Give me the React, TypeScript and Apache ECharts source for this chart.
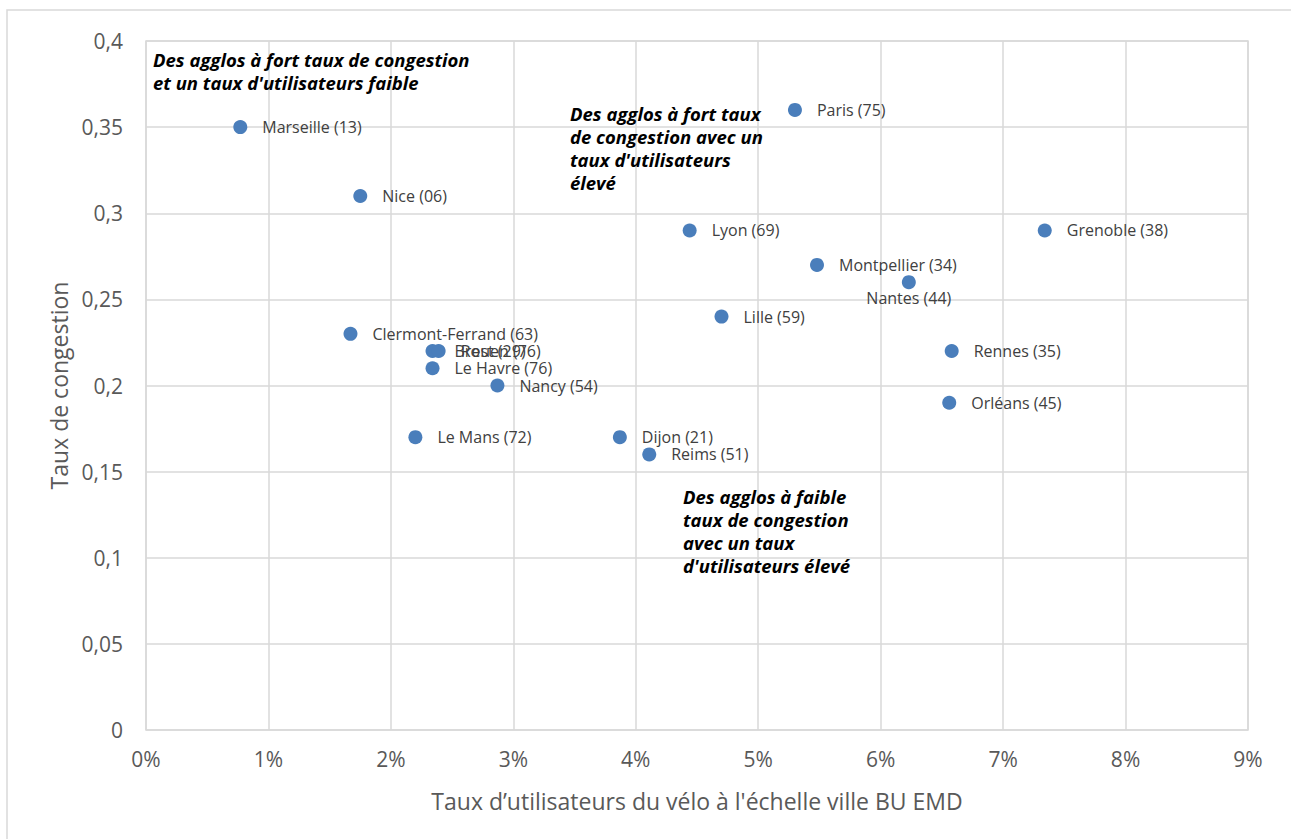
import React, { useEffect, useRef } from "react";
import * as echarts from "echarts";

const cities = [
  "Marseille (13)", "Nice (06)", "Clermont-Ferrand (63)", "Brest (29)", "Rouen (76)",
  "Le Havre (76)", "Nancy (54)", "Le Mans (72)", "Dijon (21)", "Reims (51)",
  "Lyon (69)", "Lille (59)", "Paris (75)", "Montpellier (34)", "Nantes (44)",
  "Grenoble (38)", "Rennes (35)", "Orléans (45)",
];
const bikeShare = [
  0.0077, 0.0175, 0.0167, 0.0234, 0.0239,
  0.0234, 0.0287, 0.022, 0.0387, 0.0411,
  0.0444, 0.047, 0.053, 0.0548, 0.0623,
  0.0734, 0.0658, 0.0656,
];
const congestion = [
  0.35, 0.31, 0.23, 0.22, 0.22,
  0.21, 0.2, 0.17, 0.17, 0.16,
  0.29, 0.24, 0.36, 0.27, 0.26,
  0.29, 0.22, 0.19,
];
const labelBelow = ["Nantes (44)"];

const annotations = [
  { text: "Des agglos à fort taux de congestion\net un taux d'utilisateurs faible", x: 153, y: 48 },
  { text: "Des agglos à fort taux\nde congestion avec un\ntaux d'utilisateurs\nélevé", x: 570, y: 102 },
  { text: "Des agglos à faible\ntaux de congestion\navec un taux\nd'utilisateurs élevé", x: 683, y: 485 },
];

export default function App() {
  const ref = useRef<HTMLDivElement>(null);
  useEffect(() => {
    document.body.style.margin = "0";
    const chart = echarts.init(ref.current!, null, { renderer: "svg" });
    const data = cities.map((c, i) => ({
      name: c,
      value: [bikeShare[i], congestion[i]],
      label: labelBelow.includes(c)
        ? { position: "bottom", distance: 1, align: "center" }
        : undefined,
    }));
    chart.setOption({
      animation: false,
      backgroundColor: "#fff",
      textStyle: { fontFamily: "Open Sans" },
      grid: { left: 146, right: 43, top: 41, bottom: 109 },
      xAxis: {
        type: "value",
        min: 0,
        max: 0.09,
        interval: 0.01,
        name: "Taux d’utilisateurs du vélo à l'échelle ville BU EMD",
        nameLocation: "middle",
        nameGap: 59,
        nameTextStyle: { color: "#595959", fontSize: 23, fontFamily: "Open Sans" },
        axisLine: { show: false },
        axisTick: { show: false },
        axisLabel: {
          color: "#595959",
          fontSize: 21,
          margin: 18,
          formatter: (v: number) => Math.round(v * 100) + "%",
        },
        splitLine: { show: true, lineStyle: { color: "#d9d9d9", width: 1.5 } },
      },
      yAxis: {
        type: "value",
        min: 0,
        max: 0.4,
        interval: 0.05,
        name: "Taux de congestion",
        nameLocation: "middle",
        nameGap: 74,
        nameTextStyle: { color: "#595959", fontSize: 23, fontFamily: "Open Sans" },
        axisLine: { show: false },
        axisTick: { show: false },
        axisLabel: {
          color: "#595959",
          fontSize: 21,
          margin: 23,
          formatter: (v: number) => String(Math.round(v * 100) / 100).replace(".", ","),
        },
        splitLine: { show: true, lineStyle: { color: "#d9d9d9", width: 1.5 } },
      },
      series: [
        {
          type: "scatter",
          symbolSize: 14,
          itemStyle: { color: "#4a7ebb", opacity: 1 },
          data,
          label: {
            show: true,
            position: "right",
            distance: 15,
            formatter: "{b}",
            color: "#404040",
            fontSize: 16,
            fontFamily: "Open Sans",
          },
          z: 5,
        },
      ],
      graphic: [
        {
          type: "rect",
          shape: { x: 7, y: 10, width: 1290, height: 830 },
          style: { fill: "none", stroke: "#d9d9d9", lineWidth: 1.5 },
          silent: true,
        },
        {
          type: "rect",
          shape: { x: 146, y: 41, width: 1102, height: 689 },
          style: { fill: "none", stroke: "#d9d9d9", lineWidth: 1.5 },
          silent: true,
        },
        ...annotations.map((a) => ({
          type: "text",
          x: a.x,
          y: a.y,
          z: 10,
          style: {
            text: a.text,
            fill: "#000",
            font: "italic bold 18.5px 'Open Sans'",
            lineHeight: 23,
          },
        })),
      ],
    });
    return () => chart.dispose();
  }, []);
  return <div ref={ref} style={{ width: 1291, height: 839 }} />;
}
